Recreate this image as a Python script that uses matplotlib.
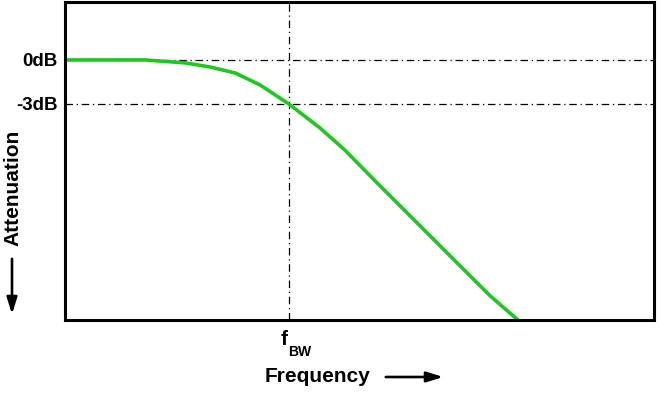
import matplotlib
matplotlib.use("Agg")
import matplotlib.pyplot as plt

# Normalized frequency (0..1 across the plot) and attenuation in dB
freq = [0.0, 0.136, 0.204, 0.246, 0.289, 0.331, 0.380, 0.433, 0.475, 0.535, 0.603, 0.671, 0.722, 0.769]
atten_db = [0.0, 0.0, -0.2, -0.48, -0.89, -1.70, -3.0, -4.64, -6.14, -8.59, -11.32, -14.05, -16.09, -17.73]
f_bw = 0.380
ref_levels = [0.0, -3.0]
ref_labels = ["0dB", "-3dB"]

plt.rcParams['font.family'] = ['Liberation Sans', 'DejaVu Sans']

fig = plt.figure(figsize=(6.63, 3.95), dpi=100)
ax = fig.add_axes([65/663, 1-320/395, 589/663, 318/395])
ax.set_xlim(0, 1)
ax.set_ylim(-17.73, 3.95)

for lvl in ref_levels:
    ax.axhline(lvl, color='black', lw=0.9, ls=(0, (6, 3, 1, 3)), zorder=1)
ax.axvline(f_bw, color='black', lw=0.9, ls=(0, (6, 3, 1, 3)), zorder=1)

ax.plot(freq, atten_db, color='#1ec81e', lw=2.6, solid_capstyle='butt',
        solid_joinstyle='round', zorder=2, clip_on=True)

ax.set_xticks([])
ax.set_yticks([])
for s in ax.spines.values():
    s.set_linewidth(2.2)

for lvl, lab in zip(ref_levels, ref_labels):
    ax.text(-0.012, lvl - 0.12, lab, transform=ax.get_yaxis_transform(), ha='right', va='center',
            fontsize=13.5, fontweight='bold')

# f_BW label
ax.text(f_bw - 0.002, -0.03, "f", transform=ax.get_xaxis_transform(), ha='right', va='top',
        fontsize=15, fontweight='bold')
ax.text(f_bw - 0.002, -0.08, "BW", transform=ax.get_xaxis_transform(), ha='left', va='top',
        fontsize=10, fontweight='bold')

arrow_style = '-|>,head_length=0.9,head_width=0.28'

# Frequency label with arrow
fig.text(318/663, 1-376/395, "Frequency", ha='center', va='center', fontsize=15, fontweight='bold')
fig.add_artist(matplotlib.patches.FancyArrowPatch((383/663, 1-377/395), (446/663, 1-377/395),
               transform=fig.transFigure, arrowstyle=arrow_style,
               mutation_scale=11, lw=1.9, color='black'))

# Attenuation label with arrow
fig.text(13/663, 1-188/395, "Attenuation", rotation=90, ha='center', va='center', fontsize=15, fontweight='bold')
fig.add_artist(matplotlib.patches.FancyArrowPatch((12/663, 1-256/395), (12/663, 1-317/395),
               transform=fig.transFigure, arrowstyle=arrow_style,
               mutation_scale=11, lw=1.9, color='black'))

fig.savefig("out.png", dpi=100)
